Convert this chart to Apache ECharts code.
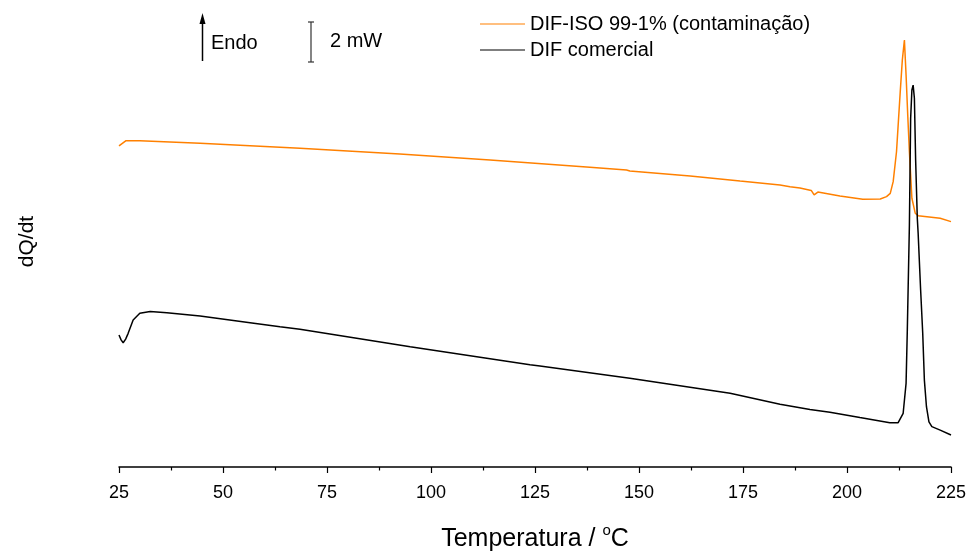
<!DOCTYPE html>
<html>
<head>
<meta charset="utf-8">
<script src="https://cdn.jsdelivr.net/npm/echarts@6/dist/echarts.min.js"></script>
<style>html,body{margin:0;padding:0;background:#fff}#c{width:970px;height:551px}</style>
</head>
<body>
<div id="c"></div>
<script>
// Temperature (°C) and dQ/dt (mW, arbitrary baseline)
const isoT = [25.0,25.24,26.7,30,44.5,68.5,92.5,114.2,138.2,147.0,147.8,162.3,174.3,183.9,186.3,188.7,191.4,192.1,193.0,198.3,203.8,208.0,209.5,210.4,211.1,211.9,212.8,213.3,213.8,214.2,214.6,215.0,215.6,216.4,217.1,222.4,225.0];
const isoV = [15.66,15.58,15.92,15.92,15.79,15.55,15.27,14.98,14.62,14.49,14.44,14.20,13.95,13.76,13.67,13.61,13.49,13.27,13.41,13.22,13.06,13.07,13.19,13.35,13.92,15.38,18.31,19.85,20.83,19.12,17.17,15.38,13.11,12.38,12.26,12.13,11.97];
const comT = [25.0,25.5,26.0,26.6,27.2,28.4,30.0,32.5,36.5,44.5,56.5,63.7,68.5,95.0,123.8,126.2,147.8,171.9,183.9,191.1,195.9,203.1,210.3,212.3,213.5,214.2,214.5,215.0,215.3,215.6,215.9,216.2,216.5,216.9,217.1,217.7,218.2,218.6,219.1,219.7,220.4,222.4,225.0];
const comV = [6.44,6.20,6.06,6.24,6.52,7.17,7.50,7.58,7.53,7.37,7.04,6.84,6.72,5.87,4.99,4.93,4.33,3.60,3.06,2.81,2.67,2.41,2.16,2.16,2.62,4.08,6.68,11.80,17.01,18.39,18.63,17.99,14.98,12.13,11.41,8.63,6.54,4.24,2.94,2.20,1.97,1.80,1.56];
const seriesNames = ['DIF-ISO 99-1% (contaminação)', 'DIF comercial'];
const xTicks = [25, 50, 75, 100, 125, 150, 175, 200, 225];

const zip = (a, b) => a.map((t, i) => [t, b[i]]);
const chart = echarts.init(document.getElementById('c'));
const F = 'Liberation Sans, Arial, sans-serif';
chart.setOption({
  animation: false,
  grid: {left: 119, right: 19, top: 16, bottom: 84, containLabel: false, outerBoundsMode: 'none'},
  legend: {
    left: 475, top: 9, orient: 'vertical', itemWidth: 45, itemHeight: 20, itemGap: 6,
    icon: 'path://M0,10L45,10L45,11L0,11Z',
    textStyle: {fontFamily: F, fontSize: 20, color: '#000', padding: [0, 0, 0, 0]},
    data: seriesNames
  },
  xAxis: {
    type: 'value', min: xTicks[0], max: xTicks[xTicks.length - 1], interval: 25,
    name: 'Temperatura / {s|o}C', nameLocation: 'middle', nameGap: 56,
    nameTextStyle: {fontFamily: F, fontSize: 25, color: '#000', rich: {s: {fontFamily: F, fontSize: 15, verticalAlign: 'top', padding: [0, 0, 18, 0], color: '#000'}}},
    axisLine: {lineStyle: {color: '#000', width: 1.5}},
    axisTick: {inside: false, length: 6, lineStyle: {color: '#000', width: 1.2}},
    minorTick: {show: true, splitNumber: 2, length: 3.5, lineStyle: {color: '#000', width: 1.2}},
    axisLabel: {fontFamily: F, fontSize: 18, color: '#000', margin: 17},
    splitLine: {show: false}
  },
  yAxis: {
    type: 'value', min: 0, max: 22,
    name: 'dQ/dt', nameLocation: 'middle', nameGap: 81, nameRotate: 90,
    nameTextStyle: {fontFamily: F, fontSize: 21, color: '#000'},
    axisLine: {show: false}, axisTick: {show: false}, axisLabel: {show: false}, splitLine: {show: false}
  },
  series: [
    {name: seriesNames[0], type: 'line', data: zip(isoT, isoV), showSymbol: false, lineStyle: {color: '#ff8000', width: 1.5}, itemStyle: {color: '#ff8000'}},
    {name: seriesNames[1], type: 'line', data: zip(comT, comV), showSymbol: false, lineStyle: {color: '#000', width: 1.5}, itemStyle: {color: '#000'}}
  ],
  graphic: [
    {type: 'line', shape: {x1: 202.5, y1: 22, x2: 202.5, y2: 61}, style: {stroke: '#000', lineWidth: 1.5}},
    {type: 'polygon', shape: {points: [[202.5, 13], [199.5, 24], [205.5, 24]]}, style: {fill: '#000'}},
    {type: 'text', left: 211, top: 33, style: {text: 'Endo', font: '20px Liberation Sans, Arial', fill: '#000'}},
    {type: 'line', shape: {x1: 311, y1: 22, x2: 311, y2: 62}, style: {stroke: '#333', lineWidth: 1.2}},
    {type: 'line', shape: {x1: 308, y1: 22, x2: 314, y2: 22}, style: {stroke: '#333', lineWidth: 1.2}},
    {type: 'line', shape: {x1: 308, y1: 62, x2: 314, y2: 62}, style: {stroke: '#333', lineWidth: 1.2}},
    {type: 'text', left: 330, top: 31, style: {text: '2 mW', font: '20px Liberation Sans, Arial', fill: '#000'}}
  ]
});
</script>
</body>
</html>
